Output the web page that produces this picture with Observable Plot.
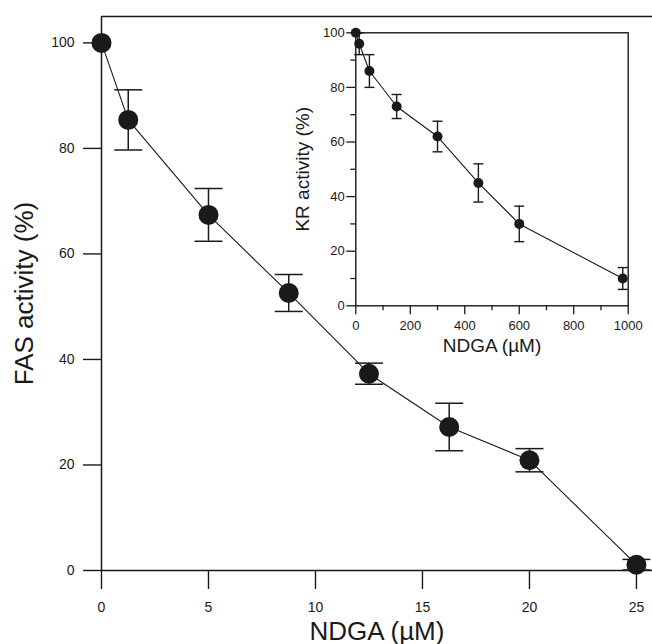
<!DOCTYPE html>
<html>
<head>
<meta charset="utf-8">
<script src="https://cdn.jsdelivr.net/npm/d3@7"></script>
<script src="https://cdn.jsdelivr.net/npm/@observablehq/plot@0.6"></script>
<style>
  html, body { margin: 0; padding: 0; background: #fff; }
  #wrap { position: relative; width: 652px; height: 644px; overflow: hidden; }
  #inset { position: absolute; left: 280px; top: 0px; }
  svg { overflow: visible; }
</style>
</head>
<body>
<div id="wrap"><div id="main"></div><div id="inset"></div></div>
<script>
// Main chart: FAS activity vs NDGA (µM)
const mainX = [0, 1.25, 5, 8.75, 12.5, 16.25, 20, 25];
const mainY = [100, 85.4, 67.4, 52.6, 37.3, 27.2, 20.9, 1.1];
const mainErr = [0, 5.7, 5, 3.5, 2, 4.5, 2.2, 1];
const mainXTicks = [0, 5, 10, 15, 20, 25];
const mainYTicks = [0, 20, 40, 60, 80, 100];

// Inset: KR activity vs NDGA (µM)
const insetX = [0, 12.5, 50, 150, 300, 450, 600, 980];
const insetY = [100, 96, 86, 73, 62, 45, 30, 10];
const insetErr = [0, 4, 6, 4.4, 5.6, 7, 6.5, 4];
const insetXTicks = [0, 200, 400, 600, 800, 1000];
const insetXMinor = [100, 300, 500, 700, 900];
const insetYTicks = [0, 20, 40, 60, 80, 100];
const insetYMinor = [10, 30, 50, 70, 90];

const FONT = "'Liberation Sans', Arial, Helvetica, sans-serif";
const INK = "#1a1a1a";
const fmt = d => String(d);

// horizontal-line symbol for error bar caps
const hline = {
  draw(ctx, size) {
    const r = Math.sqrt(size / Math.PI);
    ctx.moveTo(-r, 0);
    ctx.lineTo(r, 0);
  }
};

function rows(xs, ys, es) {
  return xs.map((x, i) => ({x, y: ys[i], e: es[i]}));
}
function caps(data) {
  const out = [];
  data.filter(d => d.e > 0).forEach(d => {
    out.push({x: d.x, y: d.y + d.e});
    out.push({x: d.x, y: d.y - d.e});
  });
  return out;
}

const main = rows(mainX, mainY, mainErr);
const mainCaps = caps(main);

const mainPlot = Plot.plot({
  width: 652,
  height: 644,
  marginLeft: 101,
  marginRight: 0,
  marginTop: 16,
  marginBottom: 74,
  style: {fontFamily: FONT, background: "transparent", color: INK},
  x: {domain: [0, 25.75]},
  y: {domain: [0, 105]},
  marks: [
    Plot.ruleY([0], {stroke: INK, strokeWidth: 1.5}),
    Plot.ruleX([0], {stroke: INK, strokeWidth: 1.5}),
    Plot.ruleY([105], {stroke: INK, strokeWidth: 1.5}),
    Plot.axisX(mainXTicks, {tickSize: 19, tickPadding: 13, fontSize: 14, strokeWidth: 1.4, tickFormat: fmt, label: null}),
    Plot.axisY(mainYTicks, {tickSize: 18, tickPadding: 9, fontSize: 14, strokeWidth: 1.4, tickFormat: fmt, label: null}),
    Plot.axisX({ticks: [], tickSize: 0, label: "NDGA (µM)", labelAnchor: "center", labelArrow: "none", labelOffset: 69, fontSize: 26}),
    Plot.axisY({ticks: [], tickSize: 0, label: "FAS activity (%)", labelAnchor: "center", labelArrow: "none", labelOffset: 87, fontSize: 26}),
    Plot.ruleX(main.filter(d => d.e > 0), {x: "x", y1: d => d.y - d.e, y2: d => d.y + d.e, stroke: INK, strokeWidth: 1.5}),
    Plot.dot(mainCaps, {x: "x", y: "y", symbol: hline, r: 14, stroke: INK, strokeWidth: 1.5, fill: "none"}),
    Plot.line(main, {x: "x", y: "y", stroke: INK, strokeWidth: 1.1}),
    Plot.dot(main, {x: "x", y: "y", r: 10, fill: INK, stroke: "none"})
  ]
});
document.getElementById("main").appendChild(mainPlot);

const inset = rows(insetX, insetY, insetErr);
const insetCaps = caps(inset);

const insetPlot = Plot.plot({
  width: 372,
  height: 360,
  marginLeft: 75.3,
  marginRight: 24.3,
  marginTop: 32.3,
  marginBottom: 54.7,
  style: {fontFamily: FONT, background: "transparent", color: INK},
  x: {domain: [0, 1000]},
  y: {domain: [0, 100]},
  marks: [
    Plot.frame({stroke: INK, strokeWidth: 1.4}),
    Plot.axisX(insetXTicks, {tickSize: 9, tickPadding: 6, fontSize: 13, strokeWidth: 1.3, tickFormat: fmt, label: null}),
    Plot.axisX(insetXMinor, {tickSize: 5, tickFormat: () => "", strokeWidth: 1.3, label: null}),
    Plot.axisY(insetYTicks, {tickSize: 9, tickPadding: 2, fontSize: 13, strokeWidth: 1.3, tickFormat: fmt, label: null}),
    Plot.axisY(insetYMinor, {tickSize: 5, tickFormat: () => "", strokeWidth: 1.3, label: null}),
    Plot.axisX({ticks: [], tickSize: 0, label: "NDGA (µM)", labelAnchor: "center", labelArrow: "none", labelOffset: 46, fontSize: 19}),
    Plot.axisY({ticks: [], tickSize: 0, label: "KR activity (%)", labelAnchor: "center", labelArrow: "none", labelOffset: 60, fontSize: 19}),
    Plot.ruleX(inset.filter(d => d.e > 0), {x: "x", y1: d => d.y - d.e, y2: d => d.y + d.e, stroke: INK, strokeWidth: 1.4}),
    Plot.dot(insetCaps, {x: "x", y: "y", symbol: hline, r: 5, stroke: INK, strokeWidth: 1.4, fill: "none"}),
    Plot.line(inset, {x: "x", y: "y", stroke: INK, strokeWidth: 1.1}),
    Plot.dot(inset, {x: "x", y: "y", r: 5, fill: INK, stroke: "none"})
  ]
});
document.getElementById("inset").appendChild(insetPlot);
</script>
</body>
</html>
